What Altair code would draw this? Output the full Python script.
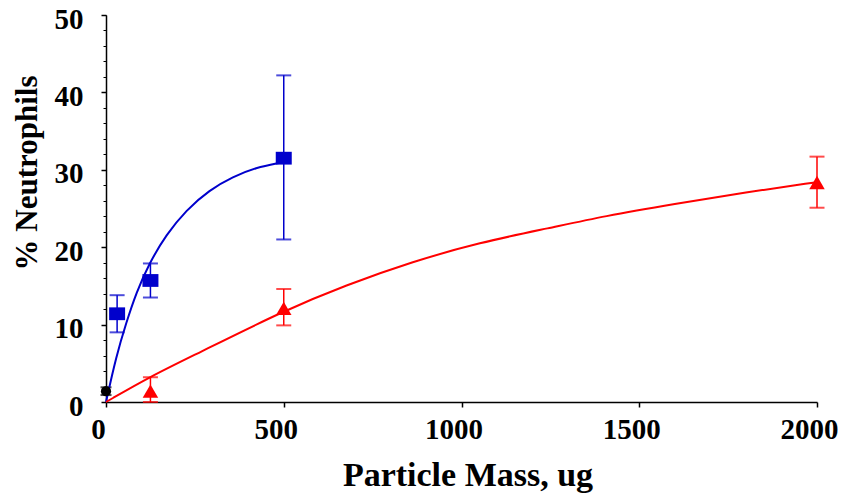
import altair as alt
import pandas as pd

# ---- measured data ----
blue_x = [31.25, 125, 500]
blue_y = [11.4, 15.7, 31.5]
blue_lo = [9.0, 13.5, 21.0]
blue_hi = [13.8, 17.9, 42.2]

red_x = [125, 500, 2000]
red_y = [1.4, 12.1, 28.35]
red_lo = [0.0, 9.9, 25.1]
red_hi = [3.2, 14.6, 31.7]

ctrl_x = [0]
ctrl_y = [1.4]
ctrl_lo = [0.9]
ctrl_hi = [1.9]

# fitted curves
curve_blue_x = [0, 28.6, 56.7, 85, 122, 169, 225.6, 291, 357, 422.5, 488, 500]
curve_blue_y = [0.0, 5.9, 10.2, 14.1, 17.95, 21.6, 24.8, 27.4, 29.1, 30.3, 30.9, 31.0]
curve_red_x = [0, 125, 250, 500, 675, 860, 1050, 1250, 1400, 1600, 1800, 2000]
curve_red_y = [0.0, 3.3, 6.1, 11.8, 15.1, 18.1, 20.6, 22.5, 24.0, 25.6, 27.1, 28.4]

x_ticks = [0, 500, 1000, 1500, 2000]
y_ticks = [0, 10, 20, 30, 40, 50]
y_minor = list(range(0, 51, 2))

FONT = "Liberation Serif"
BLUE = "#0000CC"
RED = "#FF0000"
BLACK = "#000000"

W, H = 711, 387

xscale = alt.Scale(domain=[0, 2000], nice=False, zero=False)
yscale = alt.Scale(domain=[0, 50], nice=False)

x_axis = alt.Axis(
    values=x_ticks, format="d", title="Particle Mass, ug", grid=False,
    tickSize=5, tickColor="black", tickWidth=1.5,
    domainColor="black", domainWidth=1.5,
    labelFont=FONT, labelFontSize=29, labelFontWeight="bold", labelColor="black",
    labelFlush=False, labelPadding=31, labelBaseline="alphabetic", labelOverlap=False,
    labelOffset=-8,
    titleFont=FONT, titleFontSize=34, titleFontWeight="bold", titleColor="black",
    titleX=361.5, titleY=83, titleBaseline="alphabetic", titleAlign="center",
)

y_axis_major = alt.Axis(
    values=y_ticks, title="% Neutrophils", grid=False, orient="left",
    tickSize=5, tickColor="black", tickWidth=1.5,
    domainColor="black", domainWidth=1.5,
    labelFont=FONT, labelFontSize=29, labelFontWeight="bold", labelColor="black",
    labelPadding=18, labelBaseline="middle", labelOffset=4, labelOverlap=False,
    titleFont=FONT, titleFontSize=31, titleFontWeight="bold", titleColor="black",
    titleX=-79, titleY=157.5, titleAngle=270, titleBaseline="middle", titleAlign="center",
)

y_axis_minor = alt.Axis(
    values=y_minor, title="", grid=False, orient="left", labels=False,
    domain=False, tickSize=3, tickColor="black", tickWidth=1,
)


def X(field="x"):
    return alt.X(f"{field}:Q", scale=xscale, axis=x_axis)


def Y(field, axis=None):
    if axis is None:
        return alt.Y(f"{field}:Q", scale=yscale, axis=None)
    return alt.Y(f"{field}:Q", scale=yscale, axis=axis)


def pts(xs, ys, los, his):
    return pd.DataFrame({"x": xs, "y": ys, "lo": los, "hi": his})


blue = pts(blue_x, blue_y, blue_lo, blue_hi)
red = pts(red_x, red_y, red_lo, red_hi)
ctrl = pts(ctrl_x, ctrl_y, ctrl_lo, ctrl_hi)
cb = pd.DataFrame({"x": curve_blue_x, "y": curve_blue_y})
cr = pd.DataFrame({"x": curve_red_x, "y": curve_red_y})

layers = []
first = True
for df, col in [(blue, BLUE), (red, RED), (ctrl, BLACK)]:
    rule = alt.Chart(df).mark_rule(color=col, strokeWidth=1.5).encode(
        x=X(), y=Y("lo", y_axis_major if first else None), y2="hi:Q")
    first = False
    cw = 15 if col != BLACK else 11
    cap_hi = alt.Chart(df).mark_tick(color=col, orient="horizontal", size=cw,
                                     thickness=2).encode(x=X(), y=Y("hi"))
    cap_lo = alt.Chart(df).mark_tick(color=col, orient="horizontal", size=cw,
                                     thickness=2).encode(x=X(), y=Y("lo"))
    layers += [rule, cap_hi, cap_lo]

line_b = alt.Chart(cb).mark_line(color=BLUE, strokeWidth=2, interpolate="basis").encode(
    x=X(), y=Y("y", y_axis_minor))
line_r = alt.Chart(cr).mark_line(color=RED, strokeWidth=2, interpolate="basis").encode(
    x=X(), y=Y("y"))
layers += [line_b, line_r]

sq = alt.Chart(blue).mark_point(shape="M-1,-0.8L1,-0.8L1,0.8L-1,0.8Z", filled=True, fill=BLUE,
                                opacity=1, size=256, strokeWidth=0).encode(x=X(), y=Y("y"))
tri = alt.Chart(red).mark_point(shape="triangle-up", filled=True, fill=RED, opacity=1,
                                size=240, strokeWidth=0).encode(x=X(), y=Y("y"))
circ = alt.Chart(ctrl).mark_point(shape="circle", filled=True, fill=BLACK, opacity=1,
                                  size=105, strokeWidth=0).encode(x=X(), y=Y("y"))
layers += [sq, tri, circ]

chart = alt.layer(*layers).resolve_axis(y="independent").properties(
    width=W, height=H,
    autosize=alt.AutoSizeParams(type="none"),
    padding={"left": 106, "top": 15, "right": 25, "bottom": 91},
    background="white",
).configure_view(stroke=None)

chart.save("out.html", embed_options={"renderer": "svg", "actions": False})
